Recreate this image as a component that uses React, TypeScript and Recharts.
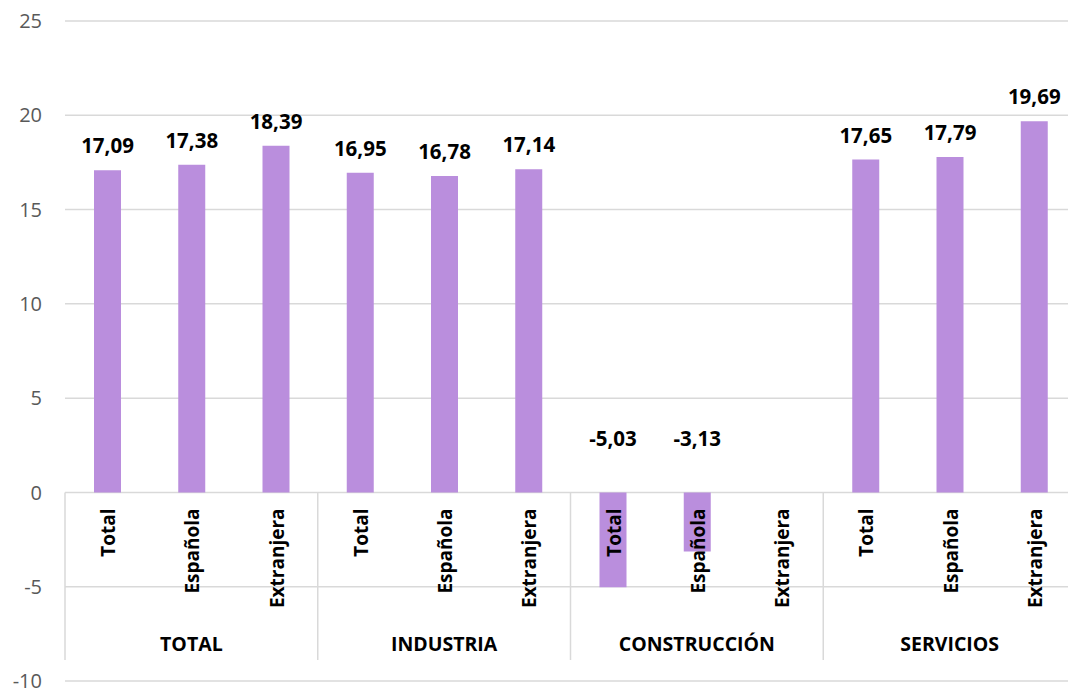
import React from 'react';
import { BarChart, Bar, XAxis, YAxis, CartesianGrid, LabelList } from 'recharts';

const groups = ['TOTAL', 'INDUSTRIA', 'CONSTRUCCIÓN', 'SERVICIOS'];
const subLabels = ['Total', 'Española', 'Extranjera'];
const totalValues = [17.09, 17.38, 18.39];
const industriaValues = [16.95, 16.78, 17.14];
const construccionValues: (number | null)[] = [-5.03, -3.13, null];
const serviciosValues = [17.65, 17.79, 19.69];
const yTicks = [-10, -5, 0, 5, 10, 15, 20, 25];

const groupValues = [totalValues, industriaValues, construccionValues, serviciosValues];
const data = groups.flatMap((g, gi) =>
  subLabels.map((s, si) => ({ key: `${g}-${s}`, group: g, sub: s, value: groupValues[gi][si] }))
);

const CHART_W = 1080;
const CHART_H = 690;
const M_TOP = 21;
const M_RIGHT = 4;
const Y_W = 65;
const X_H = 9;
const PLOT_TOP = M_TOP;
const PLOT_BOTTOM = CHART_H - X_H;
const YMIN = -10;
const YMAX = 25;
const ZERO_Y = PLOT_TOP + ((YMAX - 0) / (YMAX - YMIN)) * (PLOT_BOTTOM - PLOT_TOP);
const BAND = (CHART_W - M_RIGHT - Y_W) / data.length;
const FONT = '"Open Sans", sans-serif';
const GRID = '#D9D9D9';

const fmt = (v: number) => v.toFixed(2).replace('.', ',');

const CategoryTick = (props: any) => {
  const { x, index } = props;
  const d = data[index];
  if (!d) return null;
  const si = index % 3;
  return (
    <g>
      <text
        transform={`translate(${x + 1},${ZERO_Y + 16}) rotate(-90)`}
        textAnchor="end"
        dominantBaseline="central"
        fontFamily={FONT}
        fontWeight={700}
        fontSize={19}
        fill="#000"
      >
        {d.sub}
      </text>
      {si === 1 && (
        <text
          x={x}
          y={651}
          textAnchor="middle"
          fontFamily={FONT}
          fontWeight={700}
          fontSize={19.5}
          fill="#000"
        >
          {d.group}
        </text>
      )}
      {si === 0 && (
        <line x1={x - BAND / 2} x2={x - BAND / 2} y1={ZERO_Y} y2={660} stroke={GRID} strokeWidth={1.5} />
      )}
      {index === data.length - 1 && (
        <line x1={x + BAND / 2} x2={x + BAND / 2} y1={ZERO_Y} y2={660} stroke={GRID} strokeWidth={1.5} />
      )}
    </g>
  );
};

const ValueLabel = (props: any) => {
  const { x, y, width, height, value } = props;
  if (value === null || value === undefined) return null;
  const top = Math.min(y, y + height);
  const cx = x + width / 2;
  const ty = value >= 0 ? top - 17 : top - 46;
  return (
    <text x={cx} y={ty} textAnchor="middle" fontFamily={FONT} fontWeight={700} fontSize={20.5} fill="#000">
      {fmt(value)}
    </text>
  );
};

export default function App() {
  return (
    <div style={{ position: 'absolute', left: 0, top: 0, width: 1068, height: 690, overflow: 'hidden', background: '#fff' }}>
      <BarChart
        width={CHART_W}
        height={CHART_H}
        data={data}
        margin={{ top: M_TOP, right: M_RIGHT, left: 0, bottom: 0 }}
      >
        <CartesianGrid vertical={false} stroke={GRID} strokeWidth={1.5} />
        <YAxis
          type="number"
          domain={[YMIN, YMAX]}
          ticks={yTicks}
          width={Y_W}
          axisLine={false}
          tickLine={false}
          tickMargin={17}
          tick={{ fill: '#595959', fontSize: 20, fontFamily: FONT }}
          interval={0}
        />
        <Bar dataKey="value" fill="#BA8EDD" barSize={27} isAnimationActive={false}>
          <LabelList dataKey="value" content={ValueLabel} />
        </Bar>
        <XAxis
          dataKey="key"
          height={X_H}
          axisLine={false}
          tickLine={false}
          interval={0}
          tick={CategoryTick}
        />
      </BarChart>
    </div>
  );
}
